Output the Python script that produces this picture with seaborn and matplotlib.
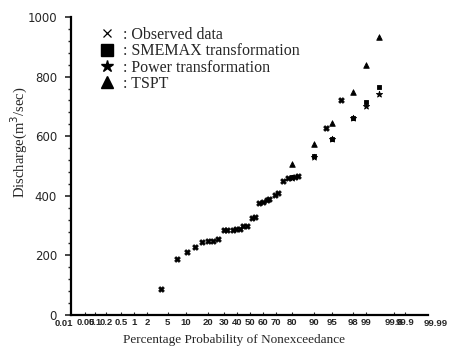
import numpy as np
import pandas as pd
import matplotlib
matplotlib.use("Agg")
import matplotlib.pyplot as plt
import matplotlib.transforms as mtransforms
from matplotlib import font_manager as fm
from matplotlib.lines import Line2D
from matplotlib.ticker import AutoMinorLocator, NullLocator
import seaborn as sns
from statistics import NormalDist

# ---- data ----
obs_prob = [3.75, 7.1, 10.3, 13.6, 16.7, 20.2, 23.1, 26.3, 30.2, 32.5, 36.5, 39.0,
            42.1, 44.7, 47.8, 51.4, 54.0, 57.4, 60.0, 63.1, 65.0, 69.1, 71.4, 74.7,
            77.8, 81.6, 83.3, 93.5, 96.6]
obs_q = [86, 187, 210, 228, 245, 248, 249, 254, 284, 284, 286, 289,
         290, 298, 300, 326, 330, 377, 380, 386, 388, 403, 408, 450,
         459, 464, 466, 626, 722]
est_prob = [80, 90, 95, 98, 99, 99.5]
smemax_q = [462, 534, 591, 660, 716, 764]
power_q = [460, 530, 591, 660, 702, 742]
tspt_q = [507, 573, 645, 748, 839, 934]

tick_probs = [0.01, 0.05, 0.1, 0.2, 0.5, 1, 2, 5, 10, 20, 30, 40, 50, 60, 70, 80,
              90, 95, 98, 99, 99.8, 99.9, 99.99]
tick_labels = ["0.01", "0.05", "0.1", "0.2", "0.5", "1", "2", "5", "10", "20", "30",
               "40", "50", "60", "70", "80", "90", "95", "98", "99", "99.8", "99.9",
               "99.99"]
legend_labels = [": Observed data", ": SMEMAX transformation",
                 ": Power transformation", ": TSPT"]
methods = ["Observed", "SMEMAX", "Power", "TSPT"]

df = pd.concat([
    pd.DataFrame({"prob": obs_prob, "q": obs_q, "method": methods[0]}),
    pd.DataFrame({"prob": est_prob, "q": smemax_q, "method": methods[1]}),
    pd.DataFrame({"prob": est_prob, "q": power_q, "method": methods[2]}),
    pd.DataFrame({"prob": est_prob, "q": tspt_q, "method": methods[3]}),
], ignore_index=True)

sns.set_theme(style="ticks")
plt.rcParams["font.family"] = ["Liberation Serif", "DejaVu Serif"]

try:
    fm.findfont(fm.FontProperties(family="Liberation Sans Narrow", weight="bold"),
                fallback_to_default=False)
    xfam, xsize = "Liberation Sans Narrow", 8
except Exception:
    xfam, xsize = "Liberation Sans", 6.8

nd = NormalDist()
_f = np.vectorize(lambda v: nd.inv_cdf(v / 100.0), otypes=[float])
_i = np.vectorize(lambda z: nd.cdf(z) * 100.0, otypes=[float])


def fwd(p):
    p = np.clip(np.asarray(p, dtype=float), 1e-7, 100 - 1e-7)
    return _f(p)


def inv(z):
    return _i(np.asarray(z, dtype=float))


fig = plt.figure(figsize=(4.51, 3.51), dpi=100)
ax = fig.add_axes([71 / 451, 36 / 351, 357 / 451, 298 / 351])
ax.set_xscale("function", functions=(fwd, inv))

markers = {"Observed": "X", "SMEMAX": "s", "Power": "*", "TSPT": "^"}
sizes = {"Observed": 16, "SMEMAX": 12, "Power": 22, "TSPT": 16}
for m in methods:
    sub = df[df["method"] == m]
    sns.scatterplot(data=sub, x="prob", y="q", marker=markers[m], s=sizes[m],
                    color="black", edgecolor="black", linewidth=0.6, ax=ax,
                    legend=False, zorder=3)

ax.set_xlim(nd.cdf(-3.58) * 100, nd.cdf(3.56) * 100)
ax.set_ylim(0, 1000)

xfont = dict(family=[xfam, "DejaVu Sans"], weight="bold", size=xsize)
inner = [(p, l) for p, l in zip(tick_probs, tick_labels) if 0.02 < p < 99.98]
ax.set_xticks([p for p, _ in inner])
ax.set_xticklabels([l for _, l in inner], fontproperties=fm.FontProperties(**xfont))
ax.xaxis.set_minor_locator(NullLocator())
ax.tick_params(axis="x", direction="in", length=2, width=0.8, pad=2)
trans = mtransforms.blended_transform_factory(ax.transData, ax.transAxes)
for p, l in zip(tick_probs, tick_labels):
    if not (0.02 < p < 99.98):
        ax.annotate(l, xy=(p, 0), xycoords=trans, xytext=(0, -3.2),
                    textcoords="offset points", ha="center", va="top",
                    annotation_clip=False, **xfont)

ax.set_yticks(np.arange(0, 1001, 200))
ax.yaxis.set_minor_locator(AutoMinorLocator(5))
ax.tick_params(axis="y", which="major", direction="out", length=4, width=1.2,
               pad=6, labelsize=8.5)
ax.tick_params(axis="y", which="minor", direction="out", length=2.5, width=1.0)
for t in ax.get_yticklabels():
    t.set_fontfamily(["DejaVu Sans"])

for s in ["top", "right"]:
    ax.spines[s].set_visible(False)
for s in ["left", "bottom"]:
    ax.spines[s].set_linewidth(1.6)
    ax.spines[s].set_color("black")

ax.set_xlabel("Percentage Probability of Nonexceedance", fontsize=9.5)
ax.xaxis.label.set_va("center")
ax.xaxis.set_label_coords((234 - 71) / 357, (315 - 340) / 298)
ax.set_ylabel("Discharge(m$^3$/sec)", fontsize=10.5)
ax.yaxis.label.set_va("center")
ax.yaxis.set_label_coords((19 - 71) / 357, (315 - 142) / 298)

handles = [Line2D([], [], ls="none", marker="x", color="black", markersize=6, mew=0.9),
           Line2D([], [], ls="none", marker="s", color="black", markersize=8),
           Line2D([], [], ls="none", marker="*", color="black", markersize=9),
           Line2D([], [], ls="none", marker="^", color="black", markersize=8)]
leg = ax.legend(handles, legend_labels, loc="upper left", frameon=False,
                bbox_to_anchor=((99 - 71) / 357, (315 - 27) / 298),
                fontsize=11.5, handlelength=1.0, handletextpad=0.5,
                labelspacing=0.02, borderpad=0, borderaxespad=0)

fig.savefig("out.png", dpi=100)
